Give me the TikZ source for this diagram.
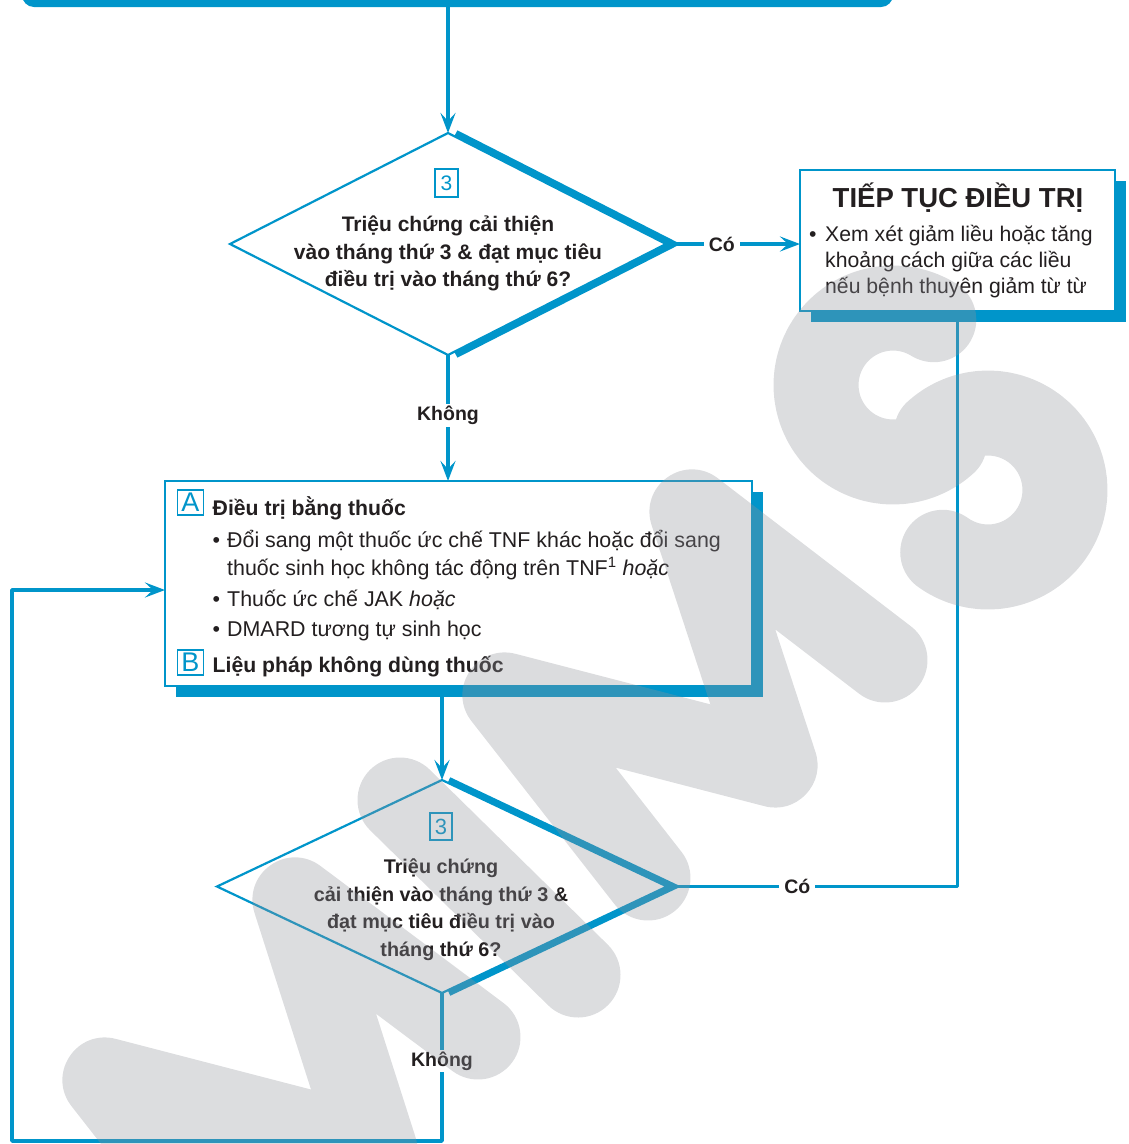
\documentclass[tikz,border=0pt]{standalone}
\usepackage{fontspec}
\setmainfont{Liberation Sans}
\usetikzlibrary{arrows.meta,shapes.geometric,shadows,calc}
\definecolor{mblue}{RGB}{0,149,202}
\definecolor{ink}{RGB}{35,31,32}
\definecolor{wmgray}{RGB}{146,148,155}
\begin{document}
\begin{tikzpicture}[x=1pt,y=-1pt,
  conn/.style={mblue,line width=3.6pt,line join=round},
  arr/.style={conn,-{Stealth[length=20pt,width=15pt,inset=8pt]}},
  lab/.style={fill=white,text=ink,font=\fontsize{19.5}{22}\selectfont\bfseries,inner xsep=5pt,inner ysep=2pt},
  panel/.style={rectangle,draw=mblue,line width=2.6pt,fill=white,inner sep=0pt,outer sep=0pt,
    general shadow={shadow xshift=11pt,shadow yshift=-11pt,fill=mblue}},
  decision/.style={diamond,draw=mblue,line width=2.2pt,fill=white,inner sep=0pt,outer sep=0pt},
  rim/.style={mblue,line width=6pt,line join=miter},
  badge/.style={rectangle,draw=mblue,line width=1.8pt,text=mblue,inner sep=0pt},
  qtext/.style={text=ink,align=center,inner sep=0pt},
  body/.style={text=ink,inner sep=0pt,font=\fontsize{21.4}{28}\selectfont},
  head/.style={text=ink,inner sep=0pt,font=\fontsize{21.2}{26}\selectfont\bfseries},
  wmstroke/.style={draw=wmgray,line width=85pt,line cap=round,line join=round},
]
\useasboundingbox (0,0) rectangle (1129,1144);

% --- top bar (previous step) ---
\node[rectangle,rounded corners=12pt,fill=mblue,inner sep=0pt,outer sep=0pt,
      minimum width=871pt,minimum height=47pt] (top) at (457.5,-16.5) {};

% --- first decision ---
\node[decision,minimum width=436pt,minimum height=222pt] (d1) at (448,244) {};
\draw[rim] ([xshift=8pt]d1.north) -- ([xshift=8pt]d1.east) -- ([xshift=8pt]d1.south);
\node[badge,minimum width=23pt,minimum height=28pt,font=\fontsize{21}{21}\selectfont] (d1n) at (446.5,183) {3};
% base anchor of a multi-line node sits on its last line
\node[qtext,anchor=base,font=\fontsize{21}{27.5}\selectfont\bfseries] (d1t) at (448,286.7)
  {Triệu chứng cải thiện\\vào tháng thứ 3 \& đạt mục tiêu\\điều trị vào tháng thứ 6?};

% --- continue treatment ---
\node[panel,minimum width=315pt,minimum height=141pt] (cont) at (957.5,240.5) {};
\node[text=ink,inner sep=0pt,anchor=base,font=\fontsize{27.5}{30}\selectfont\bfseries] (contt) at (958,207) {TIẾP TỤC ĐIỀU TRỊ};
\node[text=ink,inner sep=0pt,anchor=base west,font=\fontsize{21.2}{26}\selectfont] (contb) at (809,241.7) {•};
\node[text=ink,inner sep=0pt,anchor=base west,font=\fontsize{21.2}{26}\selectfont] (cont1) at (825,241.7) {Xem xét giảm liều hoặc tăng};
\node[text=ink,inner sep=0pt,anchor=base west,font=\fontsize{21.2}{26}\selectfont] (cont2) at (825,267.3) {khoảng cách giữa các liều};
\node[text=ink,inner sep=0pt,anchor=base west,font=\fontsize{21.2}{26}\selectfont] (cont3) at (825,293.3) {nếu bệnh thuyên giảm từ từ};

% --- treatment options ---
\node[panel,minimum width=587pt,minimum height=205pt] (boxA) at (458.5,583.5) {};
\node[badge,minimum width=26pt,minimum height=25pt,font=\fontsize{27}{27}\selectfont] (bA) at (190.5,502.5) {A};
\node[head,anchor=base west] (hA) at (212.5,515) {Điều trị bằng thuốc};
\node[body,anchor=base west] (i1b) at (212.5,547.3) {•};
\node[body,anchor=base west] (i1) at (227,547.3) {Đổi sang một thuốc ức chế TNF khác hoặc đổi sang};
\node[body,anchor=base west] (i1c) at (227,575) {thuốc sinh học không tác động trên TNF\textsuperscript{1} \textit{hoặc}};
\node[body,anchor=base west] (i2b) at (212.5,606) {•};
\node[body,anchor=base west] (i2) at (227,606) {Thuốc ức chế JAK \textit{hoặc}};
\node[body,anchor=base west] (i3b) at (212.5,636.7) {•};
\node[body,anchor=base west] (i3) at (227,636.7) {DMARD tương tự sinh học};
\node[badge,minimum width=26pt,minimum height=25pt,font=\fontsize{27}{27}\selectfont] (bB) at (190.5,662.5) {B};
\node[head,anchor=base west] (hB) at (212.5,672.7) {Liệu pháp không dùng thuốc};

% --- second decision ---
\node[decision,minimum width=450pt,minimum height=213pt] (d2) at (442,886.5) {};
\draw[rim] ([xshift=7pt]d2.north) -- ([xshift=7pt]d2.east) -- ([xshift=7pt]d2.south);
\node[badge,minimum width=22pt,minimum height=27pt,font=\fontsize{22}{22}\selectfont] (d2n) at (441,826.5) {3};
\node[qtext,anchor=base,font=\fontsize{19.8}{27.8}\selectfont\bfseries] (d2t) at (441,956.7)
  {Triệu chứng\\cải thiện vào tháng thứ 3 \&\\đạt mục tiêu điều trị vào\\tháng thứ 6?};

% --- loop-back corners ---
\coordinate (loopBR) at (d2.south |- 0,1141);
\coordinate (loopBL) at (12,1141);
\coordinate (loopTL) at (12,590);

% --- connectors ---
\draw[arr] (top.south -| d1.north) -- (d1.north);
\draw[arr] (d1.south) -- node[lab,pos=0.48]{Không} (d1.south |- boxA.north);
\draw[arr] ([xshift=8pt]d1.east) -- node[lab,pos=0.38]{Có} (cont.west |- d1.east);
\draw[arr] (d2.north |- boxA.south) -- (d2.north);
\draw[conn] ([xshift=7pt]d2.east) -- node[lab,pos=0.435]{Có} (cont.south |- d2.east) -- (cont.south);
\draw[arr] (d2.south) -- node[lab,pos=0.46]{Không} (loopBR) -- (loopBL) -- (loopTL) -- (loopTL -| boxA.west);

% --- translucent watermark lettering laid over the chart ---
\begin{scope}[transparency group,opacity=0.32]
  % first M
  \draw[wmstroke] (248,1263) -- (105,1080) -- (375,1150) -- (295,900) -- (478,1037);
  % I
  \draw[wmstroke] (400,800) -- (578,975);
  % second M
  \draw[wmstroke] (648,878) -- (505,695) -- (775,765) -- (692,512) -- (885,660);
  % S
  \draw[wmstroke]
    plot[domain=-58:-312,samples=50] ({893+77*cos(\x)},{385+77*sin(\x)})
    -- plot[domain=228:486,samples=50] ({988+77*cos(\x)},{490+77*sin(\x)});
\end{scope}

\end{tikzpicture}
\end{document}
